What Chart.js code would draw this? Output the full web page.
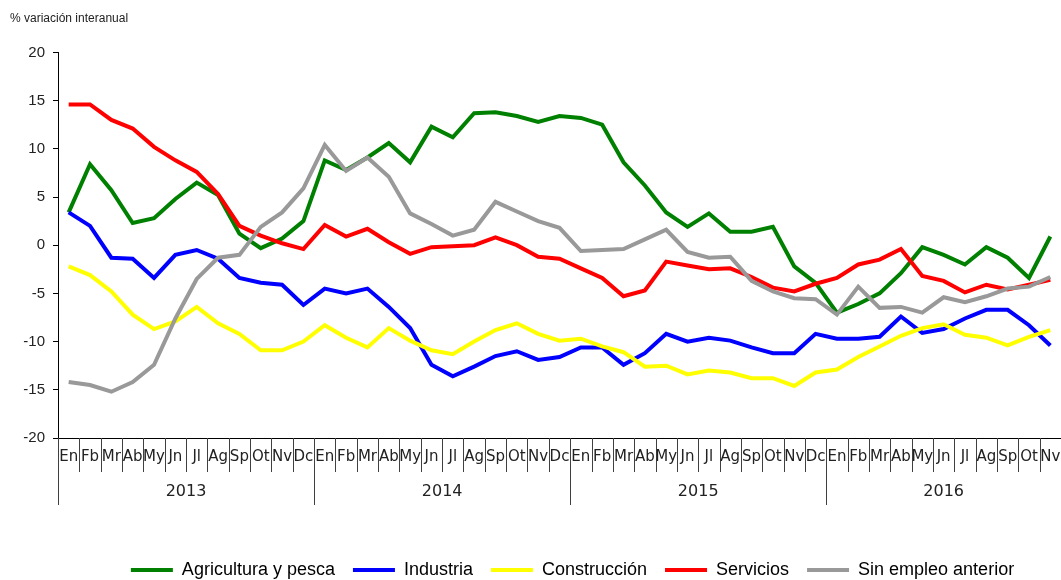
<!DOCTYPE html>
<html lang="es">
<head>
<meta charset="UTF-8">
<title>Paro registrado por sector</title>
<script src="https://cdn.jsdelivr.net/npm/chart.js"></script>
<style>
  html, body { margin: 0; background: #fff; }
  #wrap { width: 1061px; height: 580px; }
</style>
</head>
<body>
<div id="wrap"><canvas id="grafico" width="1061" height="580"></canvas></div>
<script>
// meses (En 2013 ... Nv 2016)
const meses = [
  'En','Fb','Mr','Ab','My','Jn','Jl','Ag','Sp','Ot','Nv','Dc',
  'En','Fb','Mr','Ab','My','Jn','Jl','Ag','Sp','Ot','Nv','Dc',
  'En','Fb','Mr','Ab','My','Jn','Jl','Ag','Sp','Ot','Nv','Dc',
  'En','Fb','Mr','Ab','My','Jn','Jl','Ag','Sp','Ot','Nv'
];
const anios = ['2013', '2014', '2015', '2016'];
const mesesPorAnio = [12, 12, 12, 11];

const agricultura = [
  3.4, 8.4, 5.7, 2.3, 2.8, 4.8, 6.5, 5.2, 1.2, -0.3, 0.7, 2.5,
  8.8, 7.8, 9.1, 10.6, 8.6, 12.3, 11.2, 13.7, 13.8, 13.4, 12.8, 13.4,
  13.2, 12.5, 8.6, 6.2, 3.4, 1.9, 3.3, 1.4, 1.4, 1.9, -2.2, -3.9,
  -7.0, -6.1, -5.0, -2.9, -0.2, -1.0, -2.0, -0.2, -1.3, -3.4, 0.9
];
const industria = [
  3.4, 2.0, -1.3, -1.4, -3.4, -1.0, -0.5, -1.4, -3.4, -3.9, -4.1, -6.2,
  -4.5, -5.0, -4.5, -6.4, -8.6, -12.4, -13.6, -12.6, -11.5, -11.0, -11.9, -11.6,
  -10.6, -10.6, -12.4, -11.2, -9.2, -10.0, -9.6, -9.9, -10.6, -11.2, -11.2, -9.2,
  -9.7, -9.7, -9.5, -7.4, -9.1, -8.7, -7.6, -6.7, -6.7, -8.3, -10.4
];
const construccion = [
  -2.2, -3.1, -4.8, -7.2, -8.7, -7.9, -6.4, -8.1, -9.2, -10.9, -10.9, -10.0,
  -8.3, -9.6, -10.6, -8.6, -9.9, -10.9, -11.3, -10.0, -8.8, -8.1, -9.2, -9.9,
  -9.7, -10.5, -11.1, -12.6, -12.5, -13.4, -13.0, -13.2, -13.8, -13.8, -14.6, -13.2,
  -12.9, -11.6, -10.5, -9.4, -8.6, -8.2, -9.3, -9.6, -10.4, -9.5, -8.8
];
const servicios = [
  14.6, 14.6, 13.0, 12.1, 10.2, 8.8, 7.6, 5.3, 2.0, 1.0, 0.2, -0.4,
  2.1, 0.9, 1.7, 0.3, -0.9, -0.2, -0.1, 0.0, 0.8, 0.0, -1.2, -1.4,
  -2.4, -3.4, -5.3, -4.7, -1.7, -2.1, -2.5, -2.4, -3.3, -4.4, -4.8, -4.0,
  -3.4, -2.0, -1.5, -0.4, -3.2, -3.7, -4.9, -4.1, -4.6, -4.1, -3.6
];
const sinEmpleo = [
  -14.2, -14.5, -15.2, -14.2, -12.4, -7.6, -3.5, -1.3, -1.0, 1.9, 3.4, 5.9,
  10.4, 7.7, 9.1, 7.1, 3.3, 2.2, 1.0, 1.6, 4.5, 3.5, 2.5, 1.8,
  -0.6, -0.5, -0.4, 0.6, 1.6, -0.7, -1.3, -1.2, -3.7, -4.8, -5.5, -5.6,
  -7.2, -4.3, -6.5, -6.4, -7.0, -5.4, -5.9, -5.3, -4.5, -4.3, -3.3
];

const fuente = '"Liberation Sans", Arial, sans-serif';

// eje de meses y años dibujado bajo el área del gráfico
const ejeMeses = {
  id: 'ejeMeses',
  afterLayout(chart) {
    // la leyenda del original está algo desplazada a la derecha
    chart.legend.left += 37;
    chart.legend.right += 37;
  },
  afterDraw(chart) {
    const ctx = chart.ctx, x = chart.scales.x, area = chart.chartArea;
    const paso = x.getPixelForValue(1) - x.getPixelForValue(0);
    const y0 = area.bottom;
    ctx.save();
    ctx.strokeStyle = '#404040';
    ctx.lineWidth = 1;
    ctx.fillStyle = '#222';
    ctx.textAlign = 'center';
    ctx.textBaseline = 'middle';
    ctx.font = '15px "DejaVu Sans", Verdana, sans-serif';
    meses.forEach((m, i) => {
      const cx = x.getPixelForValue(i);
      const izq = Math.round(cx - paso / 2) + 0.5;
      ctx.beginPath();
      ctx.moveTo(izq, y0);
      ctx.lineTo(izq, y0 + 34);
      ctx.stroke();
      ctx.fillText(m, cx, y0 + 19);
    });
    ctx.font = '16px "DejaVu Sans", Verdana, sans-serif';
    let inicio = 0;
    anios.forEach((a, k) => {
      const n = mesesPorAnio[k];
      const izq = x.getPixelForValue(inicio) - paso / 2;
      const der = x.getPixelForValue(inicio + n - 1) + paso / 2;
      const xl = Math.round(izq) + 0.5;
      ctx.beginPath();
      ctx.moveTo(xl, y0);
      ctx.lineTo(xl, y0 + 67);
      ctx.stroke();
      ctx.fillText(a, (izq + der) / 2, y0 + 54);
      inicio += n;
    });
    ctx.restore();
  }
};

function serie(nombre, datos, color, orden) {
  return {
    label: nombre,
    data: datos,
    borderColor: color,
    backgroundColor: color,
    borderWidth: 4,
    pointRadius: 0,
    tension: 0,
    fill: false,
    order: orden
  };
}

new Chart(document.getElementById('grafico'), {
  type: 'line',
  data: {
    labels: meses,
    datasets: [
      serie('Agricultura y pesca', agricultura, '#008000', 5),
      serie('Industria', industria, '#0000ff', 4),
      serie('Construcción', construccion, '#ffff00', 3),
      serie('Servicios', servicios, '#ff0000', 2),
      serie('Sin empleo anterior', sinEmpleo, '#999999', 1)
    ]
  },
  options: {
    responsive: false,
    animation: false,
    layout: { padding: { left: 10, right: 0, top: 0, bottom: -9 } },
    plugins: {
      tooltip: { enabled: false },
      title: {
        display: true,
        text: '% variación interanual',
        align: 'start',
        color: '#222',
        font: { family: fuente, size: 12, weight: 'normal' },
        padding: { top: 11, bottom: 27 }
      },
      legend: {
        position: 'bottom',
        labels: {
          color: '#222',
          font: { family: fuente, size: 18 },
          boxWidth: 42,
          boxHeight: 4,
          padding: 18,
          sort: (a, b) => a.datasetIndex - b.datasetIndex,
          generateLabels(chart) {
            return chart.data.datasets.map((d, i) => ({
              text: d.label,
              fillStyle: d.borderColor,
              strokeStyle: d.borderColor,
              lineWidth: 0,
              datasetIndex: i
            }));
          }
        }
      }
    },
    scales: {
      x: {
        offset: true,
        grid: { display: false },
        border: { display: true, color: '#000', width: 1 },
        ticks: { display: false },
        afterFit(s) { s.height = 105; }
      },
      y: {
        min: -20,
        max: 20,
        ticks: {
          stepSize: 5,
          color: '#222',
          padding: 8,
          font: { family: fuente, size: 15 }
        },
        grid: { drawOnChartArea: false, drawTicks: true, tickLength: 5, color: '#000' },
        border: { display: true, color: '#000', width: 1 },
        afterFit(s) { s.width = 48; }
      }
    }
  },
  plugins: [ejeMeses]
});
</script>
</body>
</html>
